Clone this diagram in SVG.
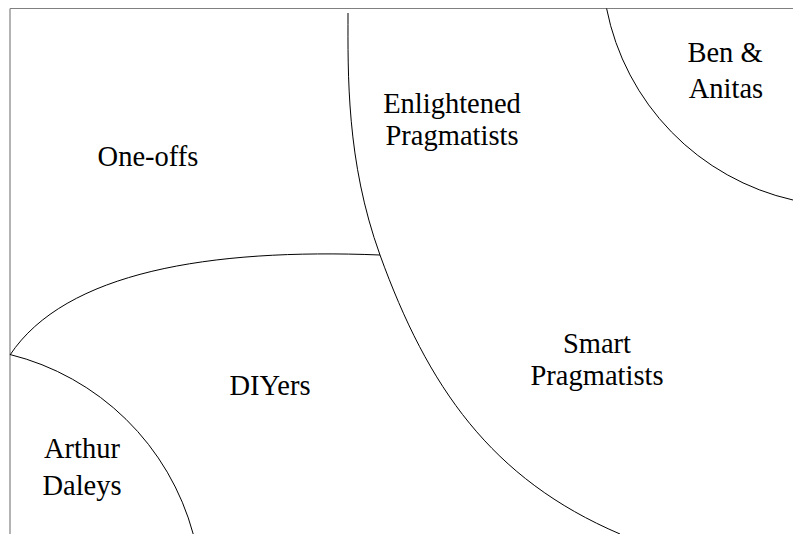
<svg xmlns="http://www.w3.org/2000/svg" width="793" height="534" viewBox="0 0 793 534">
  <style>
    .frame { stroke: #808080; stroke-width: 1.2; fill: none; }
    .arc { stroke: #000000; stroke-width: 1; fill: none; }
    .lbl { font-family: "Liberation Serif", "Times New Roman", serif; font-size: 28.5px; fill: #000000; text-anchor: middle; }
  </style>
  <rect width="793" height="534" fill="#ffffff"/>
  <g id="frame">
    <line class="frame" x1="10" y1="8.5" x2="793" y2="8.5"/>
    <line class="frame" x1="10" y1="8.5" x2="10" y2="534"/>
  </g>
  <g id="connectors">
    <path class="arc" d="M348,13 C348,73 346,161 380,255 C427.6,386.6 491,479 620,534"/>
    <path class="arc" d="M606.6,8.5 A245,245 0 0 0 793,200"/>
    <path class="arc" d="M10,355 C65,272 210,248.2 380,255"/>
    <path class="arc" d="M10,354.5 A253,253 0 0 1 193.2,534"/>
  </g>
  <g id="one-offs"><text class="lbl" x="148" y="166">One-offs</text></g>
  <g id="enlightened-pragmatists"><text class="lbl" x="452" y="113">Enlightened</text><text class="lbl" x="452" y="145">Pragmatists</text></g>
  <g id="ben-anitas"><text class="lbl" x="725" y="62">Ben &amp;</text><text class="lbl" x="726" y="98">Anitas</text></g>
  <g id="smart-pragmatists"><text class="lbl" x="597" y="353">Smart</text><text class="lbl" x="597" y="385">Pragmatists</text></g>
  <g id="diyers"><text class="lbl" x="270" y="395">DIYers</text></g>
  <g id="arthur-daleys"><text class="lbl" x="82" y="458">Arthur</text><text class="lbl" x="82" y="495">Daleys</text></g>
</svg>
